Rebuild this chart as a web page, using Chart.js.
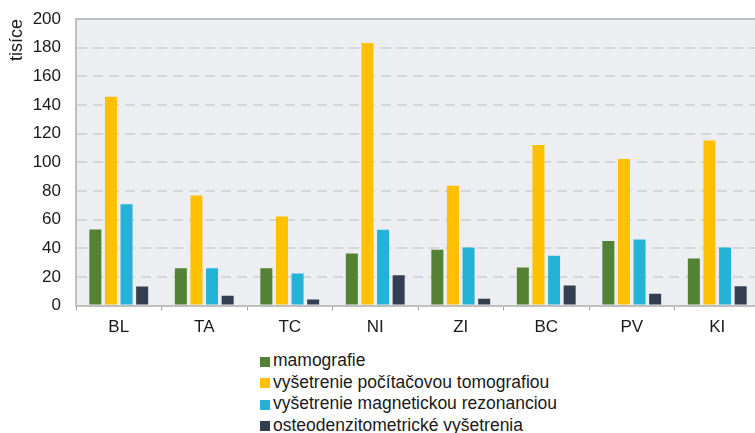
<!DOCTYPE html>
<html>
<head>
<meta charset="utf-8">
<script src="https://cdn.jsdelivr.net/npm/chart.js@4/dist/chart.umd.min.js"></script>
<style>
    html, body { margin: 0; padding: 0; background: #ffffff; overflow: hidden; }
    body { width: 755px; height: 433px; position: relative; font-family: "Liberation Sans", Arial, sans-serif; }
    #chart-box { position: absolute; left: 0; top: 0; width: 760px; height: 345px; }
    #legend { position: absolute; left: 260px; top: 350px; margin: 0; padding: 0; list-style: none; }
    #legend li { height: 21.5px; line-height: 21.5px; font-size: 17.5px; color: #1a1a1a; white-space: nowrap; }
    #legend .box { display: inline-block; width: 10px; height: 10px; margin-right: 3px; vertical-align: -0.5px; }
</style>
</head>
<body>
<div id="chart-box"><canvas id="chart"></canvas></div>
<ul id="legend"></ul>
<script>
const regions = ["BL", "TA", "TC", "NI", "ZI", "BC", "PV", "KI"];
const seriesNames = [
    "mamografie",
    "vyšetrenie počítačovou tomografiou",
    "vyšetrenie magnetickou rezonanciou",
    "osteodenzitometrické vyšetrenia"
];
const mamografie = [53.1, 26.1, 26.0, 36.4, 39.0, 26.6, 45.0, 32.9];
const tomografia = [145.7, 76.9, 62.2, 183.2, 83.7, 112.1, 102.3, 115.2];
const rezonancia = [70.8, 26.0, 22.4, 52.9, 40.6, 34.7, 46.2, 40.6];
const osteodenz = [13.3, 6.8, 4.2, 21.2, 4.7, 14.0, 8.2, 13.5];
const yTicks = [0, 20, 40, 60, 80, 100, 120, 140, 160, 180, 200];
const colors = ["#548235", "#FFC000", "#23B3D7", "#333F50"];

// pozadie grafu a horna ciara
const plotFrame = {
    id: "plotFrame",
    beforeDatasetsDraw(chart) {
        const { ctx, chartArea } = chart;
        ctx.save();
        ctx.globalCompositeOperation = "destination-over";
        ctx.fillStyle = "#EDEEF2";
        ctx.fillRect(chartArea.left, chartArea.top, chartArea.right - chartArea.left, chartArea.bottom - chartArea.top);
        ctx.restore();
    },
    afterDraw(chart) {
        const { ctx, chartArea } = chart;
        ctx.save();
        ctx.strokeStyle = "#BDBDBD";
        ctx.lineWidth = 2;
        ctx.beginPath();
        ctx.moveTo(chartArea.left, chartArea.top);
        ctx.lineTo(chartArea.right, chartArea.top);
        ctx.stroke();
        ctx.restore();
    }
};

document.addEventListener("DOMContentLoaded", () => {
    const chart = drawChart();
    buildLegend(chart);
});

function drawChart() {
    const values = [mamografie, tomografia, rezonancia, osteodenz];
    const datasets = seriesNames.map((name, i) => ({
        label: name,
        data: values[i],
        backgroundColor: colors[i],
        categoryPercentage: 0.73,
        barPercentage: 0.77
    }));

    return new Chart(document.getElementById("chart"), {
        type: "bar",
        data: { labels: regions, datasets: datasets },
        plugins: [plotFrame],
        options: {
            responsive: true,
            maintainAspectRatio: false,
            animation: false,
            layout: { padding: { top: 19, right: 0, left: 0, bottom: 0 } },
            plugins: {
                legend: { display: false },
                tooltip: { enabled: false }
            },
            scales: {
                x: {
                    grid: {
                        offset: true,
                        drawOnChartArea: false,
                        drawTicks: true,
                        tickLength: 5,
                        tickColor: "#A6A6A6"
                    },
                    border: { display: true, color: "#BFBFBF", width: 2 },
                    ticks: {
                        color: "#1a1a1a",
                        padding: 7,
                        font: { family: "Liberation Sans", size: 17 }
                    }
                },
                y: {
                    min: 0,
                    max: 200,
                    afterBuildTicks: (scale) => {
                        scale.ticks = yTicks.map(v => ({ value: v }));
                    },
                    afterFit: (scale) => {
                        scale.width = 76;
                        scale.paddingTop = 10; // tick padding sa inak pripocita navrch
                    },
                    grid: {
                        drawTicks: false,
                        color: (ctx) => (ctx.tick && (ctx.tick.value === 0 || ctx.tick.value === 200)) ? "rgba(0,0,0,0)" : "#D6D6D6",
                        lineWidth: 2
                    },
                    border: { display: true, color: "#BFBFBF", width: 2, dash: [10, 6] },
                    ticks: {
                        color: "#1a1a1a",
                        padding: 15,
                        font: { family: "Liberation Sans", size: 17 }
                    },
                    title: {
                        display: true,
                        text: "tisíce",
                        align: "end",
                        color: "#1a1a1a",
                        padding: { top: 6, bottom: 0 },
                        font: { family: "Liberation Sans", size: 18 }
                    }
                }
            }
        }
    });
}

function buildLegend(chart) {
    const list = document.getElementById("legend");
    list.innerHTML = "";
    chart.data.datasets.forEach(ds => {
        const item = document.createElement("li");
        const box = document.createElement("span");
        box.classList.add("box");
        box.style.background = ds.backgroundColor;
        item.appendChild(box);
        item.appendChild(document.createTextNode(ds.label));
        list.appendChild(item);
    });
}
</script>
</body>
</html>
